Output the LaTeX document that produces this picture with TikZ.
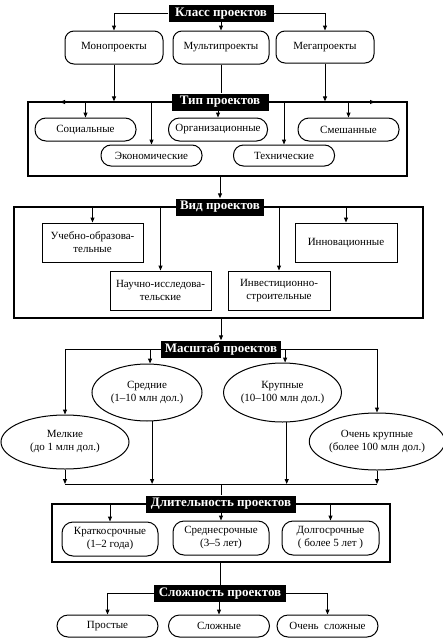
\documentclass[tikz,border=0pt]{standalone}
\usepackage{fontspec}
\setmainfont{Liberation Serif}
\usetikzlibrary{arrows.meta,shapes.geometric}
\tikzset{
  lbl/.style={fill=black,text=white,font=\fontsize{13}{14}\selectfont\bfseries,inner xsep=2pt,inner ysep=0pt,minimum height=17pt},
  txt/.style={font=\fontsize{11}{13}\selectfont,align=center,inner sep=0pt},
  rbox/.style={txt,draw,line width=1pt,rounded corners=9pt},
  sbox/.style={txt,draw,line width=1pt},
  ell/.style={txt,ellipse,draw,line width=1pt},
  frm/.style={draw,line width=1.2pt,inner sep=0pt},
  con/.style={line width=1pt},
  arr/.style={con,-{Triangle[length=5pt,width=4pt]}}
}
\begin{document}
\begin{tikzpicture}[x=1pt,y=-1pt]
\useasboundingbox (0,0) rectangle (443,640);
% ---------- frames ----------
\node[frm,minimum width=379pt,minimum height=74pt] (tipf) at (217.5,139) {};
\node[frm,minimum width=409pt,minimum height=111pt] (vidf) at (218.5,262.5) {};
\node[frm,minimum width=338pt,minimum height=58pt] (dlitf) at (221,533) {};
% ---------- labels ----------
\node[lbl,minimum width=105pt] (klass) at (221,13.5) {Класс проектов};
\node[lbl,minimum width=97pt] (tip) at (220,102) {Тип проектов};
\node[lbl,minimum width=88pt] (vid) at (220,207) {Вид проектов};
\node[lbl,minimum width=120pt] (masht) at (221,349) {Масштаб проектов};
\node[lbl,minimum width=150pt] (dlit) at (221,504) {Длительность проектов};
\node[lbl,minimum width=132pt] (slozh) at (220,593.5) {Сложность проектов};
% ---------- class ----------
\node[rbox,minimum width=98pt,minimum height=33pt] (mono) at (114,47.5) {Монопроекты};
\node[rbox,minimum width=96pt,minimum height=33pt] (multi) at (221,47.5) {Мультипроекты};
\node[rbox,minimum width=98pt,minimum height=32pt] (mega) at (325,47) {Мегапроекты};
% ---------- type ----------
\node[rbox,rounded corners=11pt,minimum width=101pt,minimum height=23pt] (soc) at (85.5,129.5) {Социальные};
\node[rbox,rounded corners=11pt,minimum width=99pt,minimum height=23pt] (org) at (218,129.5) {Организационные};
\node[rbox,rounded corners=11pt,minimum width=101pt,minimum height=23pt] (smesh) at (348.5,129.5) {Смешанные};
\node[rbox,rounded corners=10pt,minimum width=101pt,minimum height=21pt] (econ) at (151.5,155.5) {Экономические};
\node[rbox,rounded corners=10pt,minimum width=101pt,minimum height=21pt] (tech) at (284,155.5) {Технические};
% ---------- kind ----------
\node[sbox,minimum width=101pt,minimum height=39pt] (ucheb) at (92.5,242.5) {Учебно-образова-\\тельные};
\node[sbox,minimum width=101pt,minimum height=39pt] (nauch) at (160.5,290.5) {Научно-исследова-\\тельские};
\node[sbox,minimum width=102pt,minimum height=39pt] (invest) at (279,290.5) {Инвестиционно-\\строительные};
\node[sbox,minimum width=102pt,minimum height=39pt] (innov) at (346,242.5) {Инновационные};
% ---------- scale ----------
\node[ell,minimum width=110pt,minimum height=57pt] (sred) at (147,392.5) {Средние\\(1–10 млн дол.)};
\node[ell,minimum width=115pt,minimum height=59pt] (krup) at (282.5,392.5) {Крупные\\(10–100 млн дол.)};
\node[ell,minimum width=128pt,minimum height=54pt] (melk) at (65,442) {Мелкие\\(до 1 млн дол.)};
\node[ell,minimum width=122pt,minimum height=57pt] (vkrup) at (377,441.5) {Очень крупные\\(более 100 млн дол.)};
% ---------- duration ----------
\node[rbox,rounded corners=11pt,minimum width=96pt,minimum height=34pt] (krat) at (110,539) {Краткосрочные\\(1–2 года)};
\node[rbox,rounded corners=11pt,minimum width=96pt,minimum height=34pt] (sredsr) at (221,538) {Среднесрочные\\(3–5 лет)};
\node[rbox,rounded corners=11pt,minimum width=97pt,minimum height=34pt] (dolg) at (330.5,538) {Долгосрочные\\( более 5 лет )};
% ---------- complexity ----------
\node[rbox,rounded corners=11pt,minimum width=101pt,minimum height=22pt] (prost) at (107.5,626) {Простые};
\node[rbox,rounded corners=11pt,minimum width=101pt,minimum height=22pt] (slozhn) at (219,626) {Сложные};
\node[rbox,rounded corners=11pt,minimum width=101pt,minimum height=22pt] (oslozh) at (327.5,626) {Очень\enspace сложные};
% ---------- connectors: class ----------
\draw[arr] (klass.west) -| (mono.north);
\draw[arr] (klass.east) -| (mega.north);
\draw[arr] (klass.south) -- (multi.north);
\draw[con] (multi.south) -- (multi.south |- tip.north);
\draw[arr] (mono.south) -- (mono.south |- tipf.north);
\draw[arr] (mega.south) -- (mega.south |- tipf.north);
% ---------- connectors: type ----------
\coordinate (tl) at (60,102);
\coordinate (tr) at (375,102);
\draw[arr] (tip.west) -- (tl);
\draw[arr] (tip.east) -- (tr);
\draw[arr] (soc.north |- tipf.north) -- (soc.north);
\draw[arr] (econ.north |- tipf.north) -- (econ.north);
\draw[arr] (tip.south -| org.north) -- (org.north);
\draw[arr] (tech.north |- tipf.north) -- (tech.north);
\draw[arr] (smesh.north |- tipf.north) -- (smesh.north);
\draw[arr] (tipf.south -| vid.north) -- (vid.north);
% ---------- connectors: kind ----------
\draw[arr] (ucheb.north |- vidf.north) -- (ucheb.north);
\draw[arr] (nauch.north |- vidf.north) -- (nauch.north);
\draw[arr] (invest.north |- vidf.north) -- (invest.north);
\draw[arr] (innov.north |- vidf.north) -- (innov.north);
\draw[arr] (vidf.south -| masht.north) -- (masht.north);
% ---------- connectors: scale ----------
\draw[arr] (masht.west) -| (melk.north);
\draw[arr] (masht.east) -| (vkrup.north);
\draw[arr] (sred.84 |- masht.west) -- (sred.84);
\draw[arr] (krup.85 |- masht.east) -- (krup.85);
\coordinate (bl) at (221,484);
\draw[arr] (melk.south) -- (melk.south |- bl);
\draw[arr] (sred.-80) -- (sred.-80 |- bl);
\draw[arr] (krup.-82) -- (krup.-82 |- bl);
\draw[arr] (vkrup.south) -- (vkrup.south |- bl);
\draw[con] (melk.south |- bl) -- (vkrup.south |- bl);
\draw[con] (bl) -- (dlit.north);
% ---------- connectors: duration ----------
\draw[arr] (krat.north |- dlitf.north) -- (krat.north);
\draw[arr] (dlit.south -| sredsr.north) -- (sredsr.north);
\draw[arr] (dolg.north |- dlitf.north) -- (dolg.north);
\draw[con] (dlitf.south -| slozh.north) -- (slozh.north);
% ---------- connectors: complexity ----------
\draw[arr] (slozh.west) -| (prost.north);
\draw[arr] (slozh.east) -| (oslozh.north);
\draw[arr] (slozh.south -| slozhn.north) -- (slozhn.north);
\end{tikzpicture}
\end{document}
